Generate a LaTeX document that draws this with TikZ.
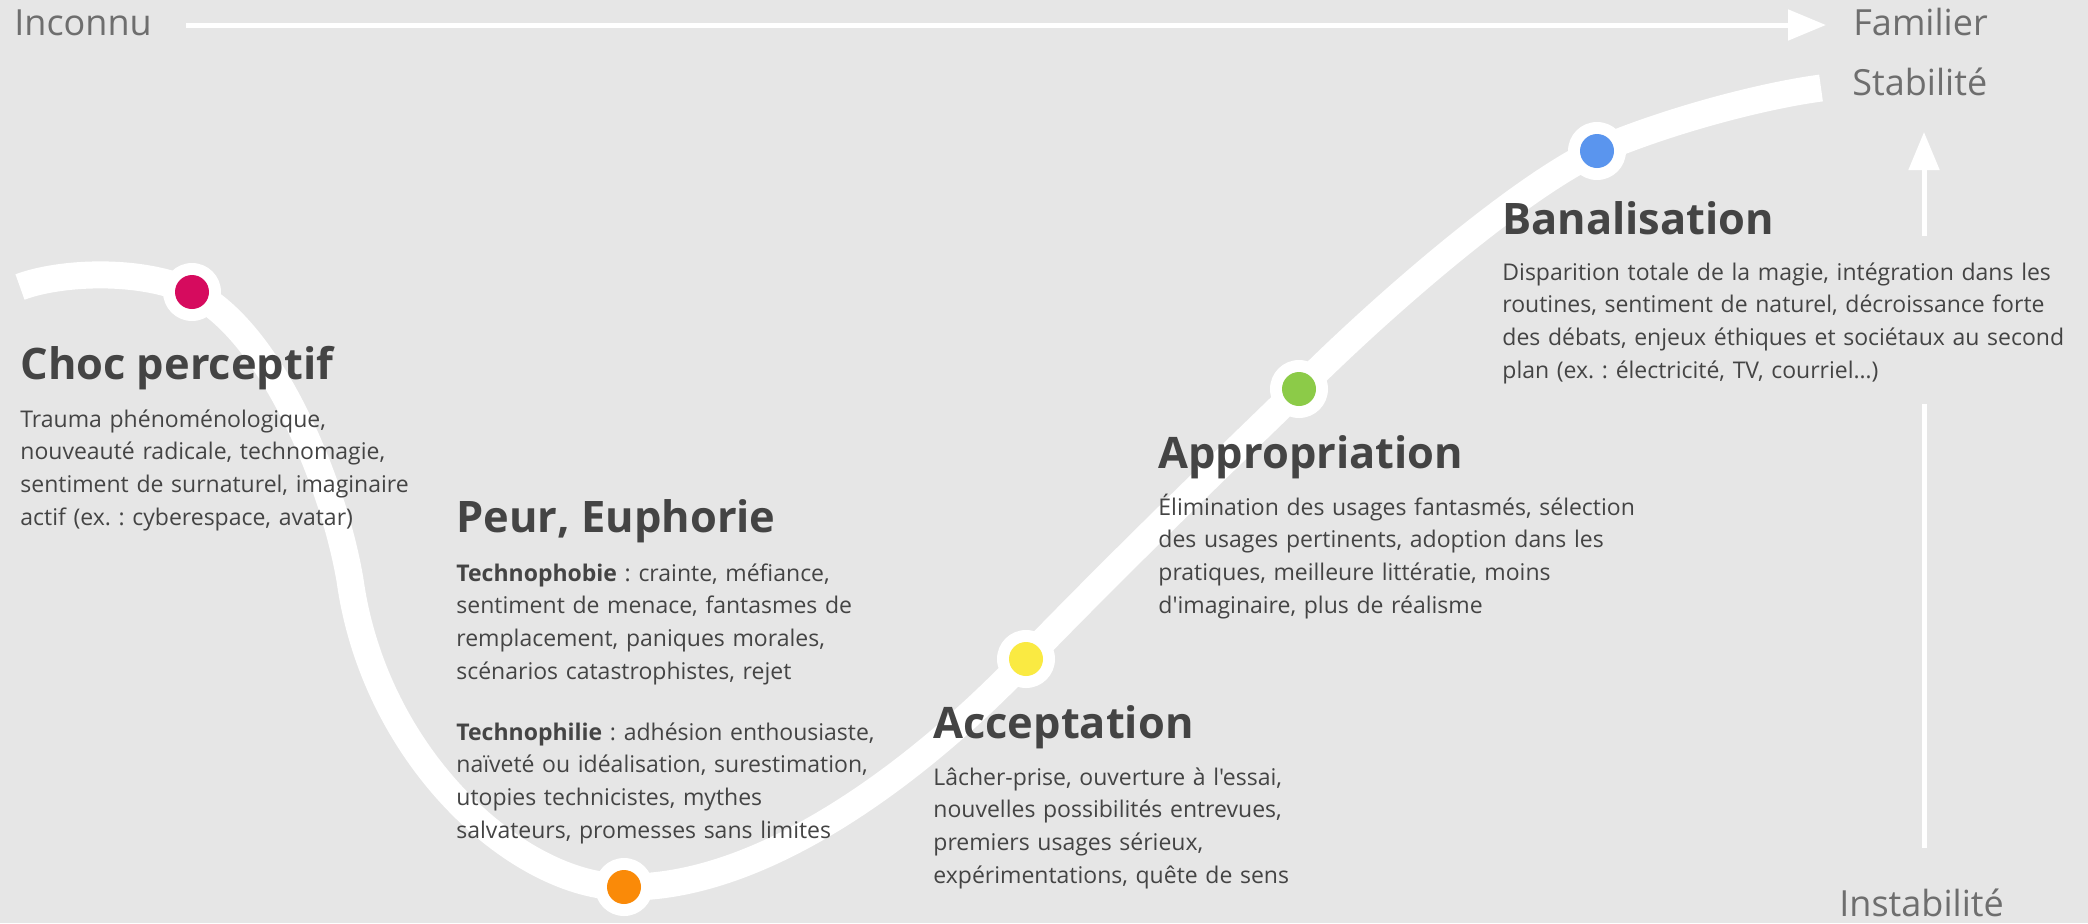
\documentclass[tikz,border=0pt]{standalone}
\usepackage{fontspec}
\setmainfont{Open Sans}[Ligatures=TeXOff]
\frenchspacing
\usetikzlibrary{arrows.meta}
\definecolor{bg}{HTML}{E6E6E6}
\definecolor{ink}{HTML}{444444}
\definecolor{axisgray}{HTML}{6E6E6E}
\definecolor{dotred}{HTML}{D60B5E}
\definecolor{dotorange}{HTML}{FA8A08}
\definecolor{dotyellow}{HTML}{FAEA42}
\definecolor{dotgreen}{HTML}{8CCB48}
\definecolor{dotblue}{HTML}{5A95EE}
\tikzset{
  curveline/.style={draw=white, line width=13.5pt, line cap=butt},
  axisline/.style={draw=white, line width=2.5pt},
  axisarrow/.style={axisline, -{Triangle[length=19pt,width=15pt]}},
  halo/.style={circle, fill=white, minimum size=29pt, inner sep=0pt},
  stagedot/.style={circle, minimum size=17pt, inner sep=0pt},
  heading/.style={anchor=base west, inner sep=0pt, text=ink,
    font=\fontsize{21.7pt}{26pt}\selectfont\bfseries},
  bodytext/.style={anchor=base west, inner sep=0pt, text=ink, text width=440pt, align=left,
    font=\fontsize{11.5pt}{16.4pt}\selectfont\frenchspacing},
  axislabel/.style={anchor=base west, inner sep=0pt, text=axisgray,
    font=\fontsize{18pt}{22pt}\selectfont},
}
\begin{document}
\begin{tikzpicture}[x=0.5pt,y=-0.5pt]
\useasboundingbox (0,0) rectangle (2088,923);
\fill[bg] (0,0) rectangle (2088,923);

% axes
\node[axislabel] (inconnu) at (14,35) {Inconnu};
\node[axislabel] (familier) at (1853,35) {Familier};
\node[axislabel] (stabilite) at (1852,95) {Stabilité};
\node[axislabel] (instabilite) at (1839,916) {Instabilité};
\coordinate (axL) at (186,25);
\coordinate (axR) at (1826,25);
\draw[axisarrow] (axL) -- (axR);
\coordinate (vTip) at (1924,132);
\coordinate (vUpLow) at (1924,236);
\coordinate (vLowTop) at (1924,404);
\coordinate (vLowBot) at (1924,848);
\draw[axisarrow] (vUpLow) -- (vTip);
\draw[axisline] (vLowTop) -- (vLowBot);

% curve
\coordinate (pStart) at (20,287);
\coordinate (pRed) at (192,292);
\coordinate (pOrange) at (624,887);
\coordinate (pYellow) at (1026,659);
\coordinate (pGreen) at (1299,389);
\coordinate (pBlue) at (1597,151);
\coordinate (pEnd) at (1821,88);
\draw[curveline] (pStart) .. controls (60,272) and (140,268) .. (pRed)
  .. controls (270,330) and (333,480) .. (350,580)
  .. controls (375,760) and (520,887) .. (pOrange)
  .. controls (780,890) and (950,740) .. (pYellow)
  .. controls (1120,562) and (1210,475) .. (pGreen)
  .. controls (1389,299) and (1522,186) .. (pBlue)
  .. controls (1667,121) and (1761,96) .. (pEnd);

% dots
\foreach \p/\c in {pRed/dotred, pOrange/dotorange, pYellow/dotyellow, pGreen/dotgreen, pBlue/dotblue}{
  \node[halo] (halo-\p) at (\p) {};
  \node[stagedot, fill=\c] (dot-\p) at (\p) {};
}

% stage texts
\node[heading] (chocH) at (20,379) {Choc perceptif};
\node[bodytext] (chocB) at (20,427) {Trauma phénoménologique,\\nouveauté radicale, technomagie,\\sentiment de surnaturel, imaginaire\\actif (ex.~: cyberespace, avatar)};

\node[heading] (peurH) at (456,532) {Peur, Euphorie};
\node[bodytext] (peurB1) at (456,581) {\textbf{Technophobie} : crainte, méfiance,\\sentiment de menace, fantasmes de\\remplacement, paniques morales,\\scénarios catastrophistes, rejet};
\node[bodytext] (peurB2) at (456,740) {\textbf{Technophilie} : adhésion enthousiaste,\\naïveté ou idéalisation, surestimation,\\utopies technicistes, mythes\\salvateurs, promesses sans limites};

\node[heading] (accH) at (933,738) {Acceptation};
\node[bodytext] (accB) at (933,785) {Lâcher-prise, ouverture à l'essai,\\nouvelles possibilités entrevues,\\premiers usages sérieux,\\expérimentations, quête de sens};

\node[heading] (appH) at (1158,468) {Appropriation};
\node[bodytext] (appB) at (1158,515) {Élimination des usages fantasmés, sélection\\des usages pertinents, adoption dans les\\pratiques, meilleure littératie, moins\\d'imaginaire, plus de réalisme};

\node[heading] (banH) at (1502,234) {Banalisation};
\node[bodytext] (banB) at (1502,280) {Disparition totale de la magie, intégration dans les\\routines, sentiment de naturel, décroissance forte\\des débats, enjeux éthiques et sociétaux au second\\plan (ex.~: électricité, TV, courriel…)};
\end{tikzpicture}
\end{document}
